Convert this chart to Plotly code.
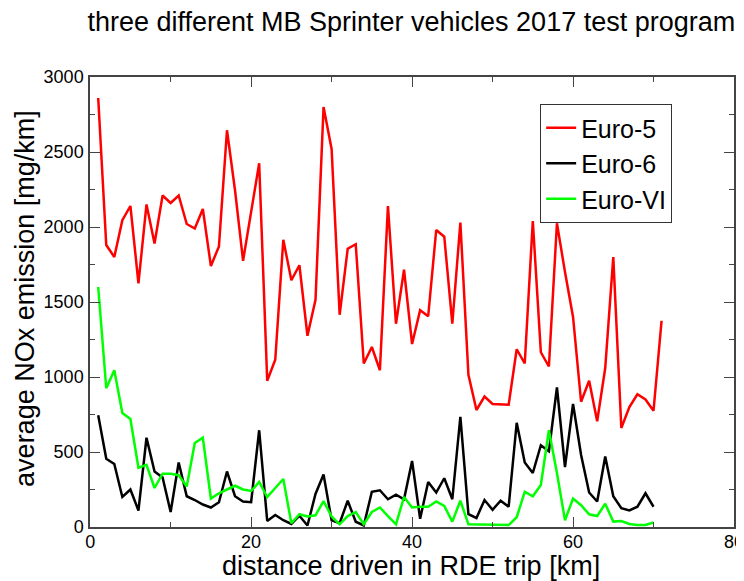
import plotly.graph_objects as go

# distance along the RDE trip [km]
km_euro5 = list(range(1, 72))
km_euro6 = list(range(1, 71))
km_euroVI = list(range(1, 71))

# average NOx emission [mg/km]
nox_euro5 = [2860, 1880, 1800, 2045, 2140, 1625, 2150, 1890, 2210, 2160,
             2210, 2020, 1990, 2120, 1740, 1870, 2645, 2245, 1775, 2090,
             2425, 975, 1115, 1915, 1645, 1745, 1275, 1515, 2800, 2520,
             1415, 1855, 1885, 1090, 1200, 1045, 2140, 1355, 1715, 1220,
             1445, 1405, 1980, 1935, 1355, 2030, 1015, 780, 870, 820,
             815, 815, 1185, 1090, 2040, 1165, 1070, 2025, 1700, 1400,
             835, 975, 705, 1060, 1800, 660, 800, 885, 850, 775, 1375]

nox_euro6 = [745, 455, 420, 200, 250, 110, 595, 370, 330, 100,
             430, 205, 180, 150, 130, 165, 370, 205, 170, 165,
             645, 40, 80, 45, 20, 75, 10, 220, 350, 45,
             25, 175, 35, 10, 235, 245, 185, 215, 185, 440,
             55, 300, 230, 325, 185, 735, 85, 60, 180, 115,
             175, 135, 695, 430, 360, 545, 505, 930, 400, 820,
             480, 230, 170, 470, 205, 125, 110, 135, 225, 135]

nox_euroVI = [1600, 925, 1045, 760, 720, 395, 415, 260, 355, 355,
              345, 270, 560, 595, 190, 225, 250, 275, 250, 240,
              300, 200, 260, 320, 25, 85, 70, 78, 173, 70,
              18, 73, 100, 18, 100, 130, 73, 18, 200, 130,
              135, 135, 170, 140, 36, 175, 18, 18, 18, 18,
              18, 13, 65, 235, 205, 280, 645, 360, 45, 190,
              145, 85, 73, 155, 36, 40, 20, 13, 13, 30]

series = [("Euro-5", km_euro5, nox_euro5, "#ff0000"),
          ("Euro-6", km_euro6, nox_euro6, "#000000"),
          ("Euro-VI", km_euroVI, nox_euroVI, "#00ff00")]

fig = go.Figure()
for name, xs, ys, col in series:
    fig.add_trace(go.Scatter(x=xs, y=ys, mode="lines", name=name,
                             line=dict(color=col, width=2.5)))

axis_style = dict(showgrid=False, zeroline=False, showline=True, automargin=False,
                  linecolor="#444444", linewidth=1.5, mirror="allticks",
                  ticks="inside", ticklen=10, tickwidth=1, tickcolor="#444444",
                  ticklabeloverflow="allow", tickfont=dict(size=18, color="black"))

# the page body has an 8px margin, so the figure is 8px smaller than the window
fig.update_layout(
    width=736, height=573,
    paper_bgcolor="white", plot_bgcolor="white",
    font=dict(family="Liberation Sans, Arial, sans-serif", color="black"),
    margin=dict(l=82, r=10, t=69, b=54),
    title=dict(text="three different MB Sprinter vehicles 2017 test program",
               font=dict(size=27), x=0.548, xanchor="center", y=0.976, yanchor="middle"),
    xaxis=dict(range=[-0.02, 80], tick0=0, dtick=20, ticklabelstandoff=-2,
               minor=dict(dtick=10, ticks="inside", ticklen=5, tickcolor="#444444"),
               **axis_style),
    yaxis=dict(range=[0, 3000], dtick=500, ticklabelstandoff=1,
               minor=dict(dtick=250, ticks="inside", ticklen=5, tickcolor="#444444"),
               **axis_style),
    legend=dict(x=0.699, y=0.94, xanchor="left", yanchor="top",
                bgcolor="white", bordercolor="#333333", borderwidth=1,
                font=dict(size=25)),
)

# axis titles as paper annotations so the plot area stays fixed
fig.add_annotation(text="distance driven in RDE trip [km]", xref="paper", yref="paper",
                   x=0.499, y=-0.086, xanchor="center", yanchor="middle",
                   showarrow=False, font=dict(size=27))
fig.add_annotation(text="average NOx emission [mg/km]", xref="paper", yref="paper",
                   x=-0.101, y=0.509, xanchor="center", yanchor="middle", textangle=-90,
                   showarrow=False, font=dict(size=27))

fig.write_html("out.html")
